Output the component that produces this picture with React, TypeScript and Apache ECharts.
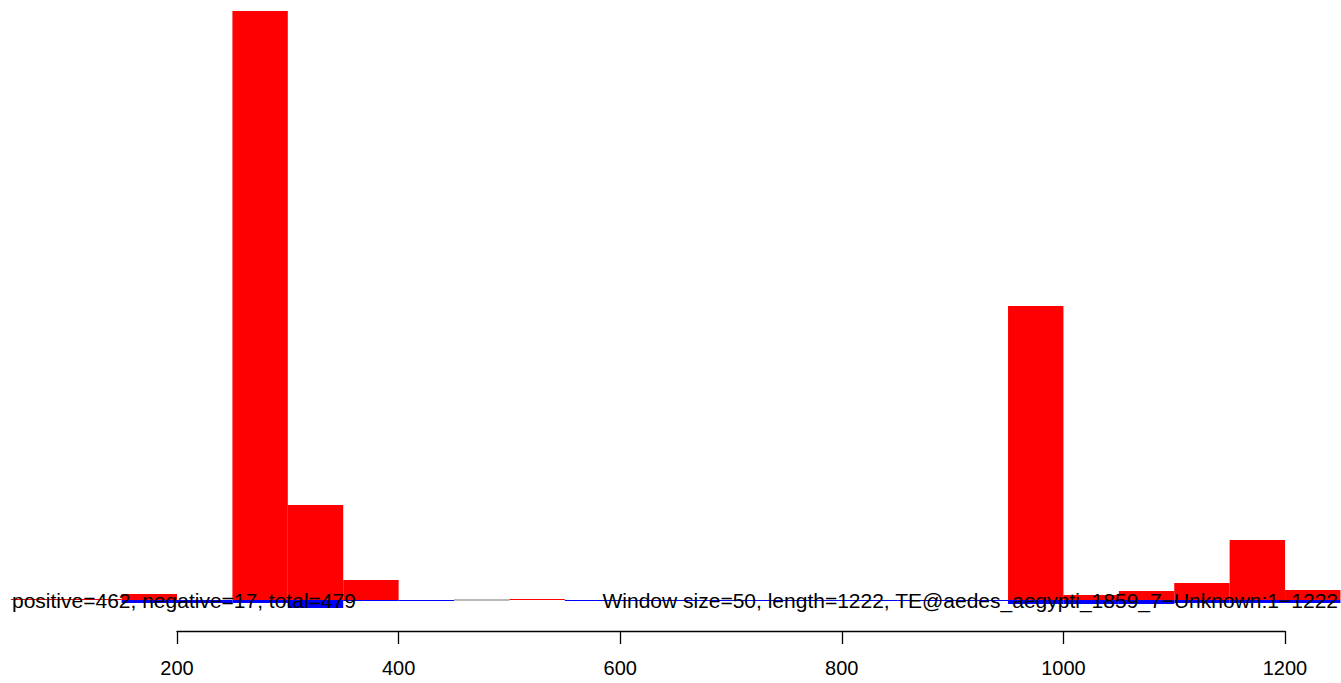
import React, { useEffect, useRef } from "react";
import * as echarts from "echarts";

// Windows of 50 bp along the element (start positions)
const windowSize = 50;
const seqLength = 1222;
const teName = "TE@aedes_aegypti_1859_7\u2212Unknown:1\u22121222";
const positiveCount = 462;
const negativeCount = 17;

const windowStarts = [50, 100, 150, 200, 250, 300, 350, 400, 450, 500, 550, 600, 650, 700, 750, 800, 850, 900, 950, 1000, 1050, 1100, 1150, 1200];
// positive-strand depth per window (null = no data)
const positiveDepth = [1, 1, 6, 0, 589, 95, 20, 0, null, 1, 0, 0, 0, 0, 0, 0, 0, 0, 294, 5, 9, 17, 60, 10];
// negative-strand depth per window
const negativeDepth = [0, 0, 3, 3, 3, 8, 1, 1, null, 0, 1, 1, 1, 1, 1, 1, 1, 1, 4, 4, 4, 3, 3, 3];

const axisTicks = [200, 400, 600, 800, 1000, 1200];

const FONT = '"Liberation Sans", Arial, Helvetica, sans-serif';

export default function App() {
  const ref = useRef<HTMLDivElement>(null);
  useEffect(() => {
    if (!ref.current) return;
    document.body.style.margin = "0";
    const chart = echarts.init(ref.current, null, { renderer: "svg" });

    const posData = windowStarts
      .map((s, i) => [s, s + windowSize, positiveDepth[i]])
      .filter((d) => d[2] !== null && (d[2] as number) > 0);
    const negData = windowStarts
      .map((s, i) => [s, s + windowSize, negativeDepth[i]])
      .filter((d) => d[2] !== null && (d[2] as number) > 0);
    const naData = windowStarts
      .map((s, i) => [s, s + windowSize, positiveDepth[i] === null ? 0 : 1])
      .filter((d) => d[2] === 0);

    const rectItem = (sign: number, color: string) => (params: any, api: any) => {
      const s = api.value(0);
      const e = api.value(1);
      const v = api.value(2) * sign;
      const p1 = api.coord([s, Math.max(v, 0)]);
      const p2 = api.coord([e, Math.min(v, 0)]);
      return {
        type: "rect",
        shape: { x: p1[0], y: p1[1], width: p2[0] - p1[0], height: p2[1] - p1[1] },
        style: { fill: color },
      };
    };

    const option: any = {
      animation: false,
      backgroundColor: "#ffffff",
      grid: [
        { left: 0, right: 0, top: 11, bottom: 52 },
        { left: 177, right: 56, top: 630, height: 1 },
      ],
      xAxis: [
        { type: "value", gridIndex: 0, min: 40.25, max: 1250.5, show: false },
        {
          type: "value",
          gridIndex: 1,
          min: 200,
          max: 1200,
          interval: 200,
          axisLine: { show: true, lineStyle: { color: "#000", width: 1.3 } },
          axisTick: { show: true, length: 13, lineStyle: { color: "#000", width: 1.3 } },
          axisLabel: {
            show: true,
            margin: 27,
            color: "#000",
            fontSize: 20,
            fontFamily: FONT,
            formatter: (v: number) => (axisTicks.includes(v) ? String(v) : ""),
          },
          splitLine: { show: false },
        },
      ],
      yAxis: [
        { type: "value", gridIndex: 0, min: -31, max: 589, show: false },
        { type: "value", gridIndex: 1, min: 0, max: 1, show: false },
      ],
      series: [
        {
          type: "custom",
          xAxisIndex: 0,
          yAxisIndex: 0,
          renderItem: rectItem(-1, "#0000ff"),
          data: negData,
        },
        {
          type: "custom",
          xAxisIndex: 0,
          yAxisIndex: 0,
          renderItem: rectItem(1, "#ff0000"),
          data: posData,
        },
        {
          type: "custom",
          xAxisIndex: 0,
          yAxisIndex: 0,
          renderItem: (params: any, api: any) => {
            const p1 = api.coord([api.value(0), 0]);
            const p2 = api.coord([api.value(1), 0]);
            return {
              type: "line",
              shape: { x1: p1[0], y1: p1[1], x2: p2[0], y2: p2[1] },
              style: { stroke: "#a0a0a0", lineWidth: 1.5 },
            };
          },
          data: naData,
        },
      ],
      graphic: [
        {
          type: "text",
          x: 12,
          y: 600,
          style: {
            text: `positive=${positiveCount}, negative=${negativeCount}, total=${positiveCount + negativeCount}`,
            font: `21px ${FONT}`,
            fill: "#000",
            align: "left",
            verticalAlign: "middle",
          },
          z: 100,
        },
        {
          type: "text",
          x: 1338,
          y: 600,
          style: {
            text: `Window size=${windowSize}, length=${seqLength}, ${teName}`,
            font: `21px ${FONT}`,
            fill: "#000",
            align: "right",
            verticalAlign: "middle",
          },
          z: 100,
        },
      ],
    };
    chart.setOption(option);
    return () => chart.dispose();
  }, []);
  return (
    <div
      ref={ref}
      style={{ position: "absolute", left: 0, top: 0, width: 1341, height: 683, background: "#fff" }}
    />
  );
}
